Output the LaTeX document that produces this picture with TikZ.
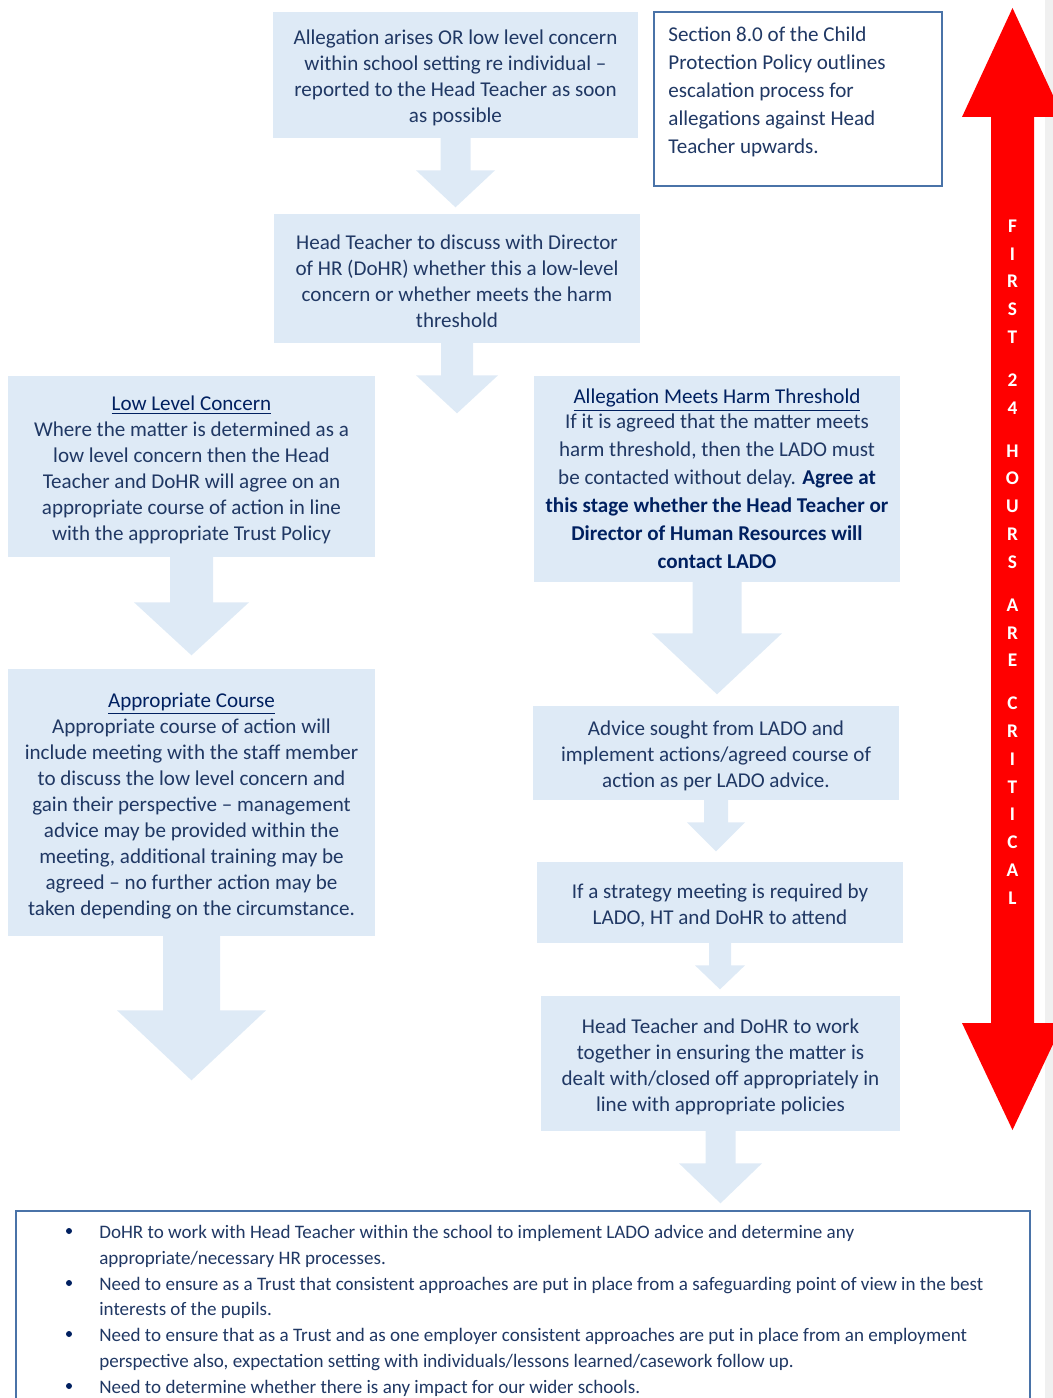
\documentclass[tikz,border=0pt]{standalone}
\usepackage{fontspec}
\setmainfont{Carlito}
\usetikzlibrary{positioning}
\usetikzlibrary{calc}

\definecolor{boxfill}{HTML}{DEEAF6}
\definecolor{bodytext}{HTML}{203864}
\definecolor{headtext}{HTML}{002060}
\definecolor{edgeblue}{HTML}{4A73A8}
\definecolor{stripgray}{HTML}{F0F0F0}
\definecolor{alarmred}{HTML}{FF0000}

\tikzset{
  flowbox/.style={fill=boxfill, text=bodytext, align=center, inner sep=0pt,
    font=\fontsize{12}{14.8}\selectfont},
  notebox/.style={draw=edgeblue, line width=1.1pt, fill=white, inner sep=0pt},
  notetext/.style={text=bodytext, align=left, inner sep=0pt, anchor=north west},
  blockfill/.style={fill=boxfill},
}

\newcommand{\heading}[1]{{\color{headtext}\underline{#1}}}
\newcommand{\keytext}[1]{{\color{headtext}\bfseries #1}}
\newcommand{\topgap}{\rule{0pt}{1.0em}}
% block arrow below a node: node, shaft half width, head half width, shaft length, head length
\newcommand{\flowarrow}[5]{%
  \fill[blockfill] ($(#1.south)+(-#2,-0.5)$) -- ($(#1.south)+(-#2,#4)$)
    -- ($(#1.south)+(-#3,#4)$) -- ($(#1.south)+(0,#4+#5)$)
    -- ($(#1.south)+(#3,#4)$) -- ($(#1.south)+(#2,#4)$)
    -- ($(#1.south)+(#2,-0.5)$) -- cycle;}

\begin{document}
\begin{tikzpicture}[x=0.02cm, y=-0.02cm]
  \useasboundingbox (0,0) rectangle (1053,1398);
  \fill[stripgray] (1045,0) rectangle (1053,1398);

  % centre column
  \node[flowbox, minimum width=7.3cm, minimum height=2.52cm] (arise) at (455.5,75)
    {\topgap Allegation arises OR low level concern\\within school setting re individual --\\reported to the Head Teacher as soon\\as possible};
  \node[flowbox, minimum width=7.32cm, minimum height=2.58cm] (discuss) at (457,278.5)
    {\topgap Head Teacher to discuss with Director\\of HR (DoHR) whether this a low-level\\concern or whether meets the harm\\threshold};

  % low level branch
  \node[flowbox, minimum width=7.34cm, minimum height=3.62cm] (lowlevel) at (191.5,466.5)
    {\topgap\heading{Low Level Concern}\\Where the matter is determined as a\\low level concern then the Head\\Teacher and DoHR will agree on an\\appropriate course of action in line\\with the appropriate Trust Policy};
  \node[flowbox, minimum width=7.34cm, minimum height=5.34cm] (course) at (191.5,802.5)
    {\topgap\heading{Appropriate Course}\\Appropriate course of action will\\include meeting with the staff member\\to discuss the low level concern and\\gain their perspective -- management\\advice may be provided within the\\meeting, additional training may be\\agreed -- no further action may be\\taken depending on the circumstance.};

  % harm threshold branch
  \node[flowbox, minimum width=7.32cm, minimum height=4.12cm,
    font=\fontsize{12}{15.9}\selectfont] (harm) at (717,479)
    {\heading{Allegation Meets Harm Threshold}\\[-1.7pt]If it is agreed that the matter meets\\harm threshold, then the LADO must\\be contacted without delay. \keytext{Agree at}\\\keytext{this stage whether the Head Teacher or}\\\keytext{Director of Human Resources will}\\\keytext{contact LADO}};
  \node[flowbox, minimum width=7.32cm, minimum height=1.88cm] (advice) at (716,753)
    {\topgap Advice sought from LADO and\\implement actions/agreed course of\\action as per LADO advice.};
  \node[flowbox, minimum width=7.32cm, minimum height=1.62cm] (strategy) at (720,902.5)
    {\topgap If a strategy meeting is required by\\LADO, HT and DoHR to attend};
  \node[flowbox, minimum width=7.18cm, minimum height=2.7cm] (together) at (720.5,1063.5)
    {\topgap Head Teacher and DoHR to work\\together in ensuring the matter is\\dealt with/closed off appropriately in\\line with appropriate policies};

  % block arrows
  \flowarrow{arise}{15}{39.5}{32}{37}
  \flowarrow{discuss}{16}{41}{32}{38}
  \flowarrow{lowlevel}{21.5}{57.5}{45}{53}
  \flowarrow{course}{28.5}{74.5}{74}{70}
  \flowarrow{harm}{24.5}{65}{51}{61}
  \flowarrow{advice}{12}{29}{22}{29}
  \flowarrow{strategy}{11}{25}{22}{24}
  \flowarrow{together}{15}{41.5}{32}{40}

  % policy note
  \node[notebox, minimum width=5.76cm, minimum height=3.48cm] (policy) at (798,99) {};
  \node[notetext, font=\fontsize{12}{15.95}\selectfont] (policytext) at ($(policy.north west)+(15,15.5)$)
    {Section 8.0 of the Child\\Protection Policy outlines\\escalation process for\\allegations against Head\\Teacher upwards.};

  % summary box
  \node[notebox, minimum width=20.28cm, minimum height=4.4cm, anchor=north west] (summary) at (15,1210) {};
  \node[notetext, font=\fontsize{10.85}{14.65}\selectfont] (summarytext) at (99,1225)
    {DoHR to work with Head Teacher within the school to implement LADO advice and determine any\\
     appropriate/necessary HR processes.\\
     Need to ensure as a Trust that consistent approaches are put in place from a safeguarding point of view in the best\\
     interests of the pupils.\\
     Need to ensure that as a Trust and as one employer consistent approaches are put in place from an employment\\
     perspective also, expectation setting with individuals/lessons learned/casework follow up.\\
     Need to determine whether there is any impact for our wider schools.};
  \foreach \n/\y in {1/1231, 2/1283, 3/1334, 4/1386}
    \node[circle, fill=headtext, inner sep=0pt, minimum size=0.12cm] (bullet\n) at (69,\y) {};

  % red 24 hours arrow
  \fill[alarmred] (1012.5,8) -- (1063,117) -- (1034,117) -- (1034,1023) -- (1063,1023)
    -- (1012.5,1130) -- (962,1023) -- (991,1023) -- (991,117) -- (962,117) -- cycle;
  \node[text=white, align=center, inner sep=0pt, font=\fontsize{11}{15.8}\selectfont\bfseries] (hours) at (1012.5,562)
    {F\\I\\R\\S\\T\\[8.7pt]2\\4\\[8.7pt]H\\O\\U\\R\\S\\[8.7pt]A\\R\\E\\[8.7pt]C\\R\\I\\T\\I\\C\\A\\L};
\end{tikzpicture}
\end{document}
